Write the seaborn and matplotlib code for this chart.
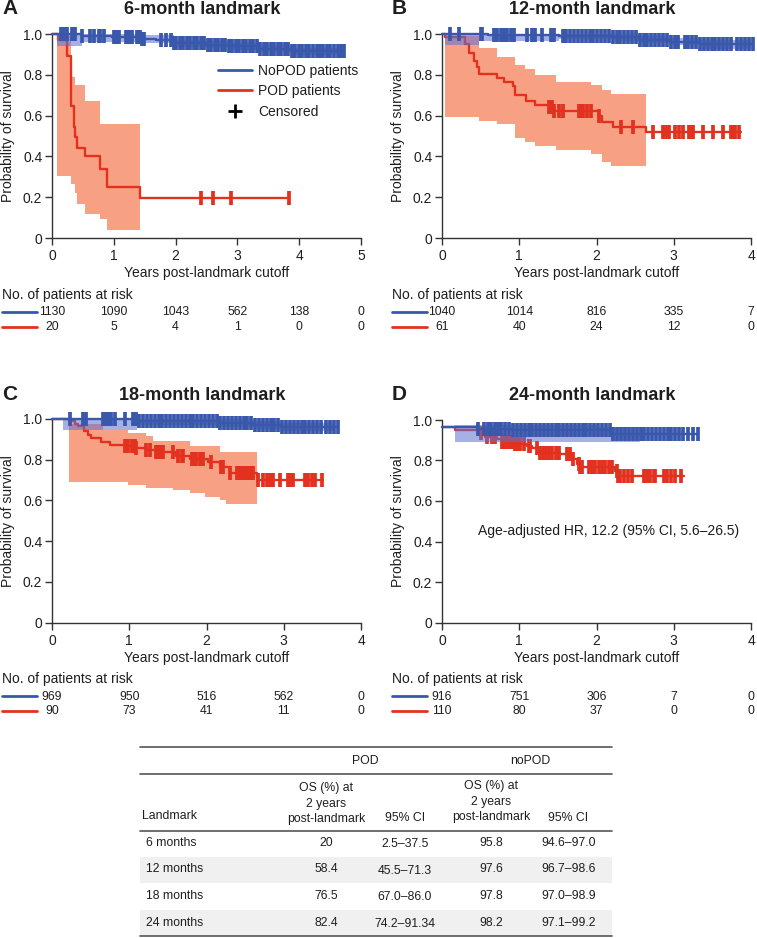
import numpy as np
import matplotlib
matplotlib.use("Agg")
import matplotlib.pyplot as plt
import matplotlib.transforms as mtrans
from matplotlib.lines import Line2D
import seaborn as sns

BLUE = "#3a58ab"
RED = "#e2321f"
BLUE_CI = "#5d6fd0"
RED_CI = "#f8a083"
INK = "#1e1e1e"

# ---------------- A: 6-month landmark ----------------
a_pod_t = [0, 0.10, 0.24, 0.30, 0.31, 0.35, 0.38, 0.41, 0.54, 0.78, 0.89, 1.43, 3.84]
a_pod_s = [1.0, 0.97, 0.89, 0.74, 0.645, 0.546, 0.497, 0.44, 0.40, 0.34, 0.25, 0.197, 0.197]
a_pod_cens = [2.41, 2.61, 2.90, 3.84]
a_pod_ci_t = [0.08, 0.30, 0.38, 0.41, 0.54, 0.78, 0.89, 1.43]
a_pod_ci_lo = [0.305, 0.265, 0.22, 0.165, 0.12, 0.095, 0.038]
a_pod_ci_hi = [0.99, 0.79, 0.75, 0.75, 0.67, 0.56, 0.56]

a_nopod_t = [0, 0.49, 0.97, 1.46, 1.68, 1.97, 2.49, 2.84, 3.35, 3.86, 4.73]
a_nopod_s = [1.0, 0.992, 0.984, 0.977, 0.969, 0.956, 0.948, 0.94, 0.928, 0.915, 0.915]
a_nopod_ci_t = [0.08, 0.49, 0.97, 1.46, 1.97, 2.49, 2.84, 3.35, 3.86, 4.62]
a_nopod_ci_lo = [0.94, 0.96, 0.962, 0.955, 0.938, 0.93, 0.922, 0.91, 0.897]
a_nopod_ci_hi = [1.0, 1.0, 1.0, 0.996, 0.972, 0.965, 0.957, 0.946, 0.933]
a_nopod_cens = [0.14, 0.19, 0.24, 0.32, 0.38, 0.49, 0.62, 0.68, 0.76, 0.78, 0.84, 1.00,
                1.03, 1.05, 1.08, 1.19, 1.22, 1.24, 1.30, 1.38, 1.43, 1.46, 1.49, 1.76,
                1.84, 1.92, 1.97, 2.01, 2.07, 2.12, 2.18, 2.24, 2.29, 2.35, 2.41, 2.46,
                2.52, 2.58, 2.63, 2.69, 2.75, 2.80, 2.86, 2.92, 2.97, 3.03, 3.09, 3.14,
                3.20, 3.26, 3.31, 3.37, 3.43, 3.48, 3.54, 3.60, 3.65, 3.71, 3.77, 3.82,
                3.88, 3.94, 3.99, 4.05, 4.11, 4.16, 4.22, 4.28, 4.33, 4.39, 4.45, 4.50,
                4.56, 4.62, 4.67, 4.73]
a_risk_nopod = [1130, 1090, 1043, 562, 138, 0]
a_risk_pod = [20, 5, 4, 1, 0, 0]

# ---------------- B: 12-month landmark ----------------
b_pod_t = [0, 0.04, 0.30, 0.35, 0.41, 0.45, 0.48, 0.71, 0.80, 0.92, 0.95, 1.09, 1.21,
           1.39, 1.45, 2.03, 2.07, 2.21, 2.64, 3.87]
b_pod_s = [1.0, 0.985, 0.95, 0.907, 0.866, 0.84, 0.803, 0.784, 0.764, 0.743, 0.70, 0.672,
           0.652, 0.64, 0.623, 0.60, 0.57, 0.546, 0.518, 0.518]
b_pod_cens = [1.39, 1.41, 1.43, 1.45, 1.52, 1.56, 1.77, 1.80, 1.82, 1.88, 1.93, 2.03,
              2.32, 2.47, 2.73, 2.86, 2.90, 2.94, 3.01, 3.07, 3.12, 3.20, 3.23, 3.25,
              3.38, 3.51, 3.64, 3.74, 3.77, 3.79, 3.85]
b_pod_ci_t = [0.04, 0.48, 0.71, 0.95, 1.08, 1.21, 1.47, 1.93, 2.07, 2.19, 2.64]
b_pod_ci_lo = [0.595, 0.575, 0.56, 0.49, 0.47, 0.45, 0.43, 0.41, 0.374, 0.354]
b_pod_ci_hi = [0.99, 0.93, 0.887, 0.85, 0.83, 0.80, 0.767, 0.75, 0.726, 0.705]

b_nopod_t = [0, 0.6, 1.52, 2.2, 2.55, 2.95, 3.34, 4.03]
b_nopod_s = [1.0, 0.996, 0.99, 0.983, 0.972, 0.963, 0.95, 0.95]
b_nopod_ci_t = [0.04, 0.48, 1.52, 2.2, 2.55, 2.95, 3.34, 4.0]
b_nopod_ci_lo = [0.948, 0.968, 0.974, 0.966, 0.955, 0.944, 0.928]
b_nopod_ci_hi = [1.0, 1.0, 1.0, 0.998, 0.99, 0.982, 0.97]
b_nopod_cens = [0.11, 0.22, 0.50, 0.52, 0.67, 0.71, 0.76, 0.80, 0.84, 0.89, 0.93, 1.10,
                1.17, 1.21, 1.30, 1.41, 1.45, 1.56, 1.61, 1.66, 1.71, 1.76, 1.81, 1.86,
                1.91, 1.96, 2.01, 2.06, 2.11, 2.16, 2.21, 2.26, 2.31, 2.36, 2.41, 2.46,
                2.51, 2.56, 2.61, 2.66, 2.71, 2.76, 2.81, 2.86, 2.91, 2.96, 3.01, 3.06,
                3.14, 3.19, 3.24, 3.29, 3.34, 3.39, 3.44, 3.49, 3.54, 3.59, 3.64, 3.69,
                3.74, 3.82, 3.87, 3.92, 3.97, 4.03]
b_risk_nopod = [1040, 1014, 816, 335, 7]
b_risk_pod = [61, 40, 24, 12, 0]

# ---------------- C: 18-month landmark ----------------
c_pod_t = [0, 0.25, 0.30, 0.34, 0.42, 0.47, 0.51, 0.64, 0.75, 0.94, 1.09, 1.22, 1.35,
           1.61, 1.78, 2.02, 2.17, 2.30, 2.65, 2.67, 3.51]
c_pod_s = [1.0, 0.99, 0.977, 0.964, 0.943, 0.923, 0.906, 0.887, 0.874, 0.866, 0.857,
           0.846, 0.836, 0.82, 0.803, 0.788, 0.764, 0.737, 0.718, 0.70, 0.70]
c_pod_cens = [0.94, 0.96, 0.98, 1.03, 1.05, 1.07, 1.09, 1.22, 1.27, 1.35, 1.37, 1.40,
              1.42, 1.44, 1.57, 1.63, 1.68, 1.70, 1.81, 1.85, 1.87, 1.91, 1.94, 1.96,
              2.06, 2.19, 2.22, 2.30, 2.39, 2.41, 2.43, 2.45, 2.48, 2.52, 2.56, 2.60,
              2.67, 2.73, 2.78, 2.82, 2.84, 2.86, 2.95, 3.06, 3.08, 3.12, 3.27, 3.32,
              3.36, 3.40, 3.49]
c_pod_ci_t = [0.22, 0.66, 0.98, 1.22, 1.31, 1.57, 1.78, 1.98, 2.17, 2.25, 2.66]
c_pod_ci_lo = [0.688, 0.688, 0.676, 0.66, 0.66, 0.649, 0.635, 0.616, 0.60, 0.58]
c_pod_ci_hi = [0.975, 0.947, 0.93, 0.915, 0.89, 0.89, 0.866, 0.866, 0.84, 0.837]

c_nopod_t = [0, 1.1, 2.15, 2.6, 2.97, 3.70]
c_nopod_s = [1.0, 0.992, 0.982, 0.972, 0.963, 0.963]
c_nopod_ci_t = [0.14, 1.1, 2.15, 2.6, 2.97, 3.65]
c_nopod_ci_lo = [0.948, 0.972, 0.962, 0.952, 0.943]
c_nopod_ci_hi = [1.0, 1.0, 0.998, 0.99, 0.982]
c_nopod_cens = [0.23, 0.40, 0.44, 0.66, 0.68, 0.72, 0.77, 0.81, 0.94, 1.05, 1.09, 1.13,
                1.18, 1.23, 1.28, 1.33, 1.38, 1.43, 1.48, 1.53, 1.58, 1.63, 1.68, 1.73,
                1.78, 1.83, 1.88, 1.93, 1.98, 2.03, 2.08, 2.13, 2.18, 2.23, 2.28, 2.33,
                2.38, 2.43, 2.48, 2.53, 2.58, 2.63, 2.68, 2.73, 2.78, 2.83, 2.88, 2.93,
                2.98, 3.03, 3.08, 3.13, 3.18, 3.23, 3.28, 3.33, 3.38, 3.43, 3.48, 3.55,
                3.60, 3.65, 3.70]
c_risk_nopod = [969, 950, 516, 562, 0]
c_risk_pod = [90, 73, 41, 11, 0]

# ---------------- D: 24-month landmark ----------------
d_pod_t = [0, 0.17, 0.50, 0.56, 0.71, 0.78, 0.93, 1.10, 1.16, 1.25, 1.53, 1.70, 1.75,
           1.79, 2.24, 2.27, 3.13]
d_pod_s = [0.964, 0.95, 0.935, 0.915, 0.905, 0.89, 0.882, 0.874, 0.862, 0.836, 0.83,
           0.808, 0.783, 0.767, 0.75, 0.722, 0.722]
d_pod_cens = [0.50, 0.58, 0.65, 0.69, 0.78, 0.80, 0.84, 0.88, 0.91, 0.95, 0.97, 1.01,
              1.06, 1.12, 1.14, 1.23, 1.27, 1.31, 1.34, 1.38, 1.42, 1.47, 1.51, 1.62,
              1.66, 1.70, 1.77, 1.79, 1.81, 1.90, 1.94, 1.98, 2.03, 2.07, 2.11, 2.16,
              2.20, 2.26, 2.28, 2.31, 2.35, 2.41, 2.46, 2.61, 2.65, 2.69, 2.74, 2.76,
              2.87, 2.91, 2.97, 3.02, 3.10]

d_nopod_t = [0, 0.45, 0.9, 2.19, 2.9, 3.31]
d_nopod_s = [0.967, 0.956, 0.952, 0.933, 0.93, 0.93]
d_nopod_ci_t = [0.17, 1.0, 2.0, 2.56]
d_nopod_ci_lo = [0.89, 0.893, 0.893]
d_nopod_ci_hi = [0.975, 0.975, 0.965]
d_nopod_cens = [0.47, 0.55, 0.59, 0.64, 0.68, 0.72, 0.77, 0.82, 0.87, 0.92, 0.97, 1.02,
                1.07, 1.12, 1.17, 1.22, 1.27, 1.32, 1.37, 1.42, 1.47, 1.52, 1.57, 1.62,
                1.67, 1.72, 1.77, 1.82, 1.87, 1.92, 1.97, 2.02, 2.07, 2.12, 2.17, 2.22,
                2.27, 2.32, 2.37, 2.42, 2.47, 2.52, 2.57, 2.62, 2.67, 2.72, 2.77, 2.82,
                2.87, 2.92, 2.97, 3.02, 3.07, 3.12, 3.18, 3.25, 3.31]
d_risk_nopod = [916, 751, 306, 7, 0]
d_risk_pod = [110, 80, 37, 0, 0]

# ---------------- summary table ----------------
tab_landmarks = ["6 months", "12 months", "18 months", "24 months"]
tab_pod_os = ["20", "58.4", "76.5", "82.4"]
tab_pod_ci = ["2.5\u201337.5", "45.5\u201371.3", "67.0\u201386.0", "74.2\u201391.34"]
tab_nopod_os = ["95.8", "97.6", "97.8", "98.2"]
tab_nopod_ci = ["94.6\u201397.0", "96.7\u201398.6", "97.0\u201398.9", "97.1\u201399.2"]

panels = [
    dict(letter="A", title="6-month landmark", box=(52, 361, 34, 238), xmax=5,
         red=(a_pod_t, a_pod_s, a_pod_cens), red_ci=(a_pod_ci_t, a_pod_ci_lo, a_pod_ci_hi),
         blue=(a_nopod_t, a_nopod_s, a_nopod_cens),
         blue_ci=(a_nopod_ci_t, a_nopod_ci_lo, a_nopod_ci_hi),
         risk=(a_risk_nopod, a_risk_pod)),
    dict(letter="B", title="12-month landmark", box=(442, 751, 34, 238), xmax=4,
         red=(b_pod_t, b_pod_s, b_pod_cens), red_ci=(b_pod_ci_t, b_pod_ci_lo, b_pod_ci_hi),
         blue=(b_nopod_t, b_nopod_s, b_nopod_cens),
         blue_ci=(b_nopod_ci_t, b_nopod_ci_lo, b_nopod_ci_hi),
         risk=(b_risk_nopod, b_risk_pod)),
    dict(letter="C", title="18-month landmark", box=(52, 361, 419, 622.5), xmax=4,
         red=(c_pod_t, c_pod_s, c_pod_cens), red_ci=(c_pod_ci_t, c_pod_ci_lo, c_pod_ci_hi),
         blue=(c_nopod_t, c_nopod_s, c_nopod_cens),
         blue_ci=(c_nopod_ci_t, c_nopod_ci_lo, c_nopod_ci_hi),
         risk=(c_risk_nopod, c_risk_pod)),
    dict(letter="D", title="24-month landmark", box=(442, 751, 420, 622.5), xmax=4,
         red=(d_pod_t, d_pod_s, d_pod_cens), red_ci=None,
         blue=(d_nopod_t, d_nopod_s, d_nopod_cens),
         blue_ci=(d_nopod_ci_t, d_nopod_ci_lo, d_nopod_ci_hi),
         risk=(d_risk_nopod, d_risk_pod)),
]

sns.set_theme(style="ticks")
plt.rcParams["font.family"] = ["Liberation Sans", "DejaVu Sans"]
plt.rcParams["text.color"] = INK

W, H = 757, 938
fig = plt.figure(figsize=(W / 100, H / 100), dpi=100)
fig.patch.set_facecolor("white")

# overlay axes in pixel units for free text and table
ov = fig.add_axes([0, 0, 1, 1])
ov.set_xlim(0, W)
ov.set_ylim(H, 0)
ov.set_autoscale_on(False)
ov.axis("off")
ov.patch.set_visible(False)


def surv_at(t, s, c):
    idx = np.searchsorted(np.asarray(t), np.asarray(c), side="right") - 1
    return np.asarray(s)[idx]


def draw_band(ax, band, color, alpha, z):
    bt, lo, hi = band
    ax.fill_between(bt, lo + [lo[-1]], hi + [hi[-1]], step="post", color=color,
                    alpha=alpha, lw=0, zorder=z, clip_on=False)


def draw_curve(ax, curve, color, z):
    t, s, cens = curve
    sns.lineplot(x=t, y=s, ax=ax, color=color, lw=1.7, drawstyle="steps-post",
                 estimator=None, sort=False, legend=False, zorder=z)
    ax.plot(cens, surv_at(t, s, cens), ls="none", marker="|", ms=10, mew=2.7,
            color=color, zorder=z, clip_on=False)


for p in panels:
    x0, x1, yt, yb = p["box"]
    ax = fig.add_axes([x0 / W, 1 - yb / H, (x1 - x0) / W, (yb - yt) / H])
    ax.set_facecolor("none")
    if p["red_ci"] is not None:
        draw_band(ax, p["red_ci"], RED_CI, 1.0, 1)
    draw_curve(ax, p["red"], RED, 2)
    draw_band(ax, p["blue_ci"], BLUE_CI, 0.55, 3)
    draw_curve(ax, p["blue"], BLUE, 4)
    for ln in ax.lines:
        ln.set_clip_on(False)

    xmax = p["xmax"]
    ax.set_xlim(0, xmax)
    ax.set_ylim(0, 1)
    ax.set_xticks(range(xmax + 1))
    ax.set_yticks([0, 0.2, 0.4, 0.6, 0.8, 1.0])
    ax.set_yticklabels(["0", "0.2", "0.4", "0.6", "0.8", "1.0"])
    ax.tick_params(axis="both", length=5, width=1, labelsize=10, colors="#333",
                   labelcolor=INK)
    ax.tick_params(axis="x", pad=3)
    ax.tick_params(axis="y", pad=2)
    sns.despine(ax=ax)
    for sp in ("left", "bottom"):
        ax.spines[sp].set_color("#333")
        ax.spines[sp].set_linewidth(1)
    ax.set_xlabel("")
    ax.set_ylabel("")

    xc = (x0 + x1) / 2
    ov.text(x0 - 50, yt - 19.5, p["letter"], fontsize=15, fontweight="bold", va="baseline")
    ov.text(xc - 4, yt - 19.5, p["title"], fontsize=13, fontweight="bold",
            ha="center", va="baseline")
    ov.text(x0 - 44, (yt + yb) / 2, "Probability of survival", fontsize=10,
            rotation=90, ha="center", va="center")
    ov.text(xc, yb + 39.5, "Years post-landmark cutoff", fontsize=10,
            ha="center", va="baseline")

    # number at risk
    tr = mtrans.blended_transform_factory(ax.transData, ov.transData)
    ov.text(x0 - 50, yb + 60.5, "No. of patients at risk", fontsize=10, va="baseline")
    for nums, color, dy in ((p["risk"][0], BLUE, 74), (p["risk"][1], RED, 89)):
        ov.plot([x0 - 50, x0 - 15], [yb + dy, yb + dy], color=color, lw=2)
        for xi, n in enumerate(nums):
            ov.text(xi, yb + dy, str(n), transform=tr, ha="center", va="center",
                    fontsize=8.8)

    if p["letter"] == "A":
        handles = [Line2D([], [], color=BLUE, lw=2),
                   Line2D([], [], color=RED, lw=2),
                   Line2D([], [], ls="none", marker="+", color="black", ms=10, mew=2)]
        ax.legend(handles, ["NoPOD patients", "POD patients", "Censored"],
                  loc="upper left", bbox_to_anchor=(218, 64), bbox_transform=ov.transData,
                  frameon=False, fontsize=10, handlelength=2.45, handletextpad=0.45,
                  labelspacing=0.45, borderpad=0, borderaxespad=0)
    if p["letter"] == "D":
        ov.text(478, 535, "Age-adjusted HR, 12.2 (95% CI, 5.6\u201326.5)", fontsize=10,
                va="baseline")

# ---------------- table ----------------
TL, TR = 140, 612
for y0, y1 in ((857, 883), (910, 936)):
    ov.fill_between([TL, TR], [y0, y0], [y1, y1], color="#f0f0f0", lw=0, zorder=0)
for yy in (746.7, 774, 830.7, 936):
    ov.plot([TL, TR], [yy, yy], color="#555", lw=1.2)

fs = 8.8
ov.text(365, 760.7, "POD", fontsize=fs, ha="center", va="center")
ov.text(530, 760.7, "noPOD", fontsize=fs, ha="center", va="center")
for cx, dy in ((326, 0), (491, -2)):
    ov.text(cx, 788 + dy, "OS (%) at", fontsize=fs, ha="center", va="center")
    ov.text(cx, 804 + dy, "2 years", fontsize=fs, ha="center", va="center")
    ov.text(cx, 819 + dy, "post-landmark", fontsize=fs, ha="center", va="center")
ov.text(142, 816, "Landmark", fontsize=fs, ha="left", va="center")
ov.text(405, 818, "95% CI", fontsize=fs, ha="center", va="center")
ov.text(568, 818, "95% CI", fontsize=fs, ha="center", va="center")

row_y = [843.3, 869.5, 896.3, 922.7]
for i, y in enumerate(row_y):
    ov.text(146, y, tab_landmarks[i], fontsize=fs, ha="left", va="center")
    ov.text(326, y, tab_pod_os[i], fontsize=fs, ha="center", va="center")
    ov.text(405, y + 1, tab_pod_ci[i], fontsize=fs, ha="center", va="center")
    ov.text(491, y, tab_nopod_os[i], fontsize=fs, ha="center", va="center")
    ov.text(569, y, tab_nopod_ci[i], fontsize=fs, ha="center", va="center")

fig.savefig("out.png", dpi=100, facecolor="white")
